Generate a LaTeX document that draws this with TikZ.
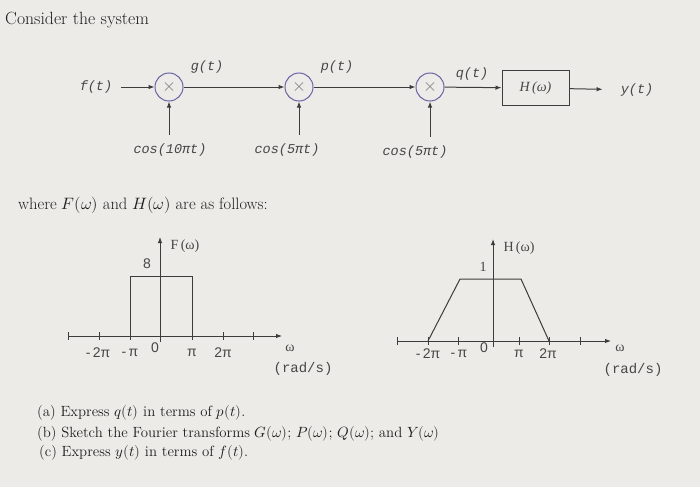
\documentclass[tikz,border=0pt]{standalone}
\usepackage{fontspec}
\usepackage{unicode-math}
\newfontfamily\monof{Liberation Mono}
\newfontfamily\seriff{Liberation Serif}
\newfontfamily\sansf{Liberation Sans}
\usetikzlibrary{arrows.meta}
\definecolor{bgc}{RGB}{236,235,231}
\definecolor{txtc}{RGB}{30,30,30}
\definecolor{labc}{RGB}{70,70,70}
\definecolor{linec}{RGB}{60,60,60}
\definecolor{circc}{RGB}{105,100,165}
\definecolor{crossc}{RGB}{120,120,120}
\newcommand{\crossm}{{\color{crossc}\fontsize{18}{18}\selectfont$\times$}}
\tikzset{
  arr/.style={-{Latex[length=6pt,width=4.5pt]}, draw=linec, line width=1pt},
  mult/.style={circle, draw=circc, line width=1pt, minimum size=28pt, inner sep=0pt},
  sig/.style={font=\monof\itshape\fontsize{13.5}{14}\selectfont, text=labc, inner sep=4pt},
  cosl/.style={sig, inner ysep=9pt},
  hbox/.style={draw=linec, line width=1pt, minimum width=67pt, minimum height=35pt, inner sep=0pt, font=\seriff\itshape\fontsize{14}{14}\selectfont, text=labc},
  maintxt/.style={anchor=base west, text=txtc, inner sep=0pt},
  qtxt/.style={anchor=base west, font=\fontsize{14.8}{17}\selectfont, text=txtc, inner sep=0pt},
  axisl/.style={draw=linec, line width=1pt},
  axarr/.style={axisl, -{Latex[length=6pt,width=4.5pt]}},
  tickl/.style={font=\sansf\fontsize{14}{14}\selectfont, text=labc, inner sep=0pt},
  serl/.style={font=\seriff\fontsize{14}{14}\selectfont, text=labc, inner sep=0pt},
  radl/.style={font=\monof\fontsize{14}{14}\selectfont, text=labc, inner sep=0pt},
}
\begin{document}
\begin{tikzpicture}[x=1pt,y=-1pt]
\fill[bgc] (0,0) rectangle (700,487);
\useasboundingbox (0,0) rectangle (700,487);

\node[maintxt, font=\fontsize{17.7}{20}\selectfont] (title) at (5,25) {Consider the system};

% block diagram
\node[sig] (ft) at (96,87) {f(t)};
\node[mult] (m1) at (169,87) {\crossm};
\node[mult] (m2) at (299,87) {\crossm};
\node[mult] (m3) at (430,87) {\crossm};
\node[hbox] (H) at (535.5,88) {H\,(ω)};
\node[sig] (yt) at (637,90) {y(t)};
\node[sig] (gt) at (207,67) {g(t)};
\node[sig] (pt) at (337,67) {p(t)};
\node[sig] (qt) at (472,74) {q(t)};
\node[cosl] (c1) at (170,150) {cos(10πt)};
\node[cosl] (c2) at (287,150) {cos(5πt)};
\node[cosl] (c3) at (415,152) {cos(5πt)};

\draw[arr, shorten <=5pt] (ft) -- (m1);
\draw[arr] (m1) -- (m2);
\draw[arr] (m2) -- (m3);
\draw[arr] (m3) -- (H);
\draw[arr, shorten >=14pt] (H) -- (yt);
\draw[arr] (m1 |- c1.north) -- (m1);
\draw[arr] (m2 |- c2.north) -- (m2);
\draw[arr] (m3 |- c3.north) -- (m3);

\node[maintxt, font=\fontsize{16.5}{19}\selectfont] (where) at (18,209) {where $F(\omega)$ and $H(\omega)$ are as follows:};

% F(omega) graph
\draw[axarr] (68,336) -- (282,336);
\foreach \x in {68,99,130,192,223,253} \draw[axisl] (\x,332) -- (\x,340);
\draw[axarr] (160,342) -- (160,237);
\draw[axisl] (130,336) -- (130,276) -- (192,276) -- (192,336);
\node[tickl] (f8) at (147,264) {8};
\node[serl] (fl) at (185,246) {F\,(ω)};
\node[tickl] (fa) at (98,353) {-\,2π};
\node[tickl] (fb) at (130,353) {-\,π};
\node[tickl] (f0) at (155,348) {0};
\node[tickl] (fc) at (192,353) {π};
\node[tickl] (fd) at (223,353) {2π};
\node[serl] (fw) at (290,348) {ω};
\node[radl] (fr) at (303,369) {(rad/s)};

% H(omega) graph
\draw[axarr] (397,341) -- (611,341);
\foreach \x in {397,428,458,519,549,580} \draw[axisl] (\x,337) -- (\x,345);
\draw[axarr] (493,347) -- (493,239);
\draw[axisl] (428,341) -- (460,279) -- (521,279) -- (549,341);
\node[serl] (h1) at (483,267) {1};
\node[serl] (hl) at (519,248) {H\,(ω)};
\node[tickl] (ha) at (428,354) {-\,2π};
\node[tickl] (hb) at (459,354) {-\,π};
\node[tickl] (h0) at (484,348) {0};
\node[tickl] (hc) at (519,354) {π};
\node[tickl] (hd) at (548,354) {2π};
\node[serl] (hw) at (620,348) {ω};
\node[radl] (hr) at (633,370) {(rad/s)};

% questions
\node[qtxt] (qa) at (37,416) {(a) Express $q(t)$ in terms of $p(t)$.};
\node[qtxt] (qb) at (37,437) {(b) Sketch the Fourier transforms $G(\omega)$; $P(\omega)$; $Q(\omega)$; and $Y(\omega)$};
\node[qtxt] (qc) at (39,456) {(c) Express $y(t)$ in terms of $f(t)$.};
\end{tikzpicture}
\end{document}
